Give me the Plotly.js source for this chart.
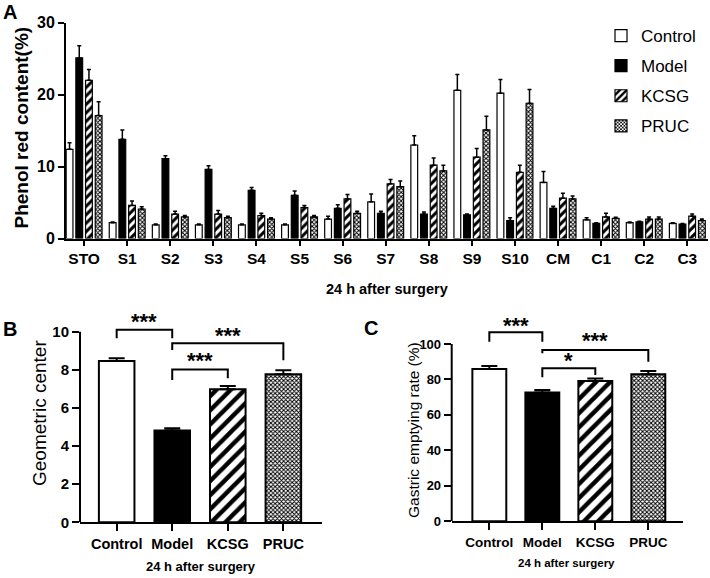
<!DOCTYPE html>
<html>
<head>
<meta charset="utf-8">
<script src="https://cdn.plot.ly/plotly-3.0.1.min.js"></script>
<style>
  html, body { margin: 0; padding: 0; background: #ffffff; }
  #chart { width: 710px; height: 578px; }
</style>
</head>
<body>
<div id="chart"></div>
<script>
// ---------- Panel A data ----------
const categoriesA = ['STO','S1','S2','S3','S4','S5','S6','S7','S8','S9','S10','CM','C1','C2','C3'];
const controlA    = [12.4, 2.2, 1.9, 1.9, 1.9, 1.9, 2.7, 5.1, 13.0, 20.6, 20.2, 7.8, 2.6, 2.2, 2.1];
const controlErrA = [0.9, 0.1, 0.1, 0.1, 0.1, 0.1, 0.4, 1.1, 1.3, 2.2, 1.9, 1.5, 0.3, 0.1, 0.1];
const modelA      = [25.1, 13.8, 11.1, 9.6, 6.7, 6.0, 4.2, 3.5, 3.4, 3.3, 2.5, 4.2, 2.1, 2.3, 2.0];
const modelErrA   = [1.7, 1.3, 0.4, 0.5, 0.4, 0.6, 0.5, 0.3, 0.3, 0.1, 0.4, 0.3, 0.1, 0.1, 0.1];
const kcsgA       = [22.0, 4.6, 3.4, 3.4, 3.2, 4.3, 5.5, 7.6, 10.2, 11.3, 9.2, 5.6, 3.0, 2.7, 3.1];
const kcsgErrA    = [1.5, 0.6, 0.4, 0.5, 0.3, 0.3, 0.6, 0.6, 1.0, 1.2, 1.0, 0.7, 0.5, 0.3, 0.3];
const prucA       = [17.1, 4.1, 3.0, 2.9, 2.7, 3.0, 3.5, 7.2, 9.4, 15.1, 18.8, 5.5, 2.8, 2.7, 2.5];
const prucErrA    = [1.9, 0.3, 0.2, 0.2, 0.2, 0.2, 0.3, 0.8, 0.8, 1.9, 1.9, 0.4, 0.15, 0.3, 0.2];
const yTicksA     = [0, 10, 20, 30];

// ---------- Panel B / C data ----------
const groups      = ['Control', 'Model', 'KCSG', 'PRUC'];
const geoCenter   = [8.46, 4.81, 6.98, 7.76];
const geoErr      = [0.14, 0.12, 0.17, 0.21];
const gastricRate = [85.9, 72.7, 79.1, 82.9];
const gastricErr  = [1.7, 1.4, 1.4, 1.9];
const yTicksB     = [0, 2, 4, 6, 8, 10];
const yTicksC     = [0, 20, 40, 60, 80, 100];

// significance brackets: [from, to]
const sigPairs    = [['Control','Model'], ['Model','PRUC'], ['Model','KCSG']];
const sigLevelsB  = [10.1, 9.39, 8.02];
const sigDropsB   = [[9.65, 9.65], [9.04, 8.5], [7.46, 7.55]];
const sigTextB    = ['***', '***', '***'];
const sigTextYB   = [10.75, 10.0, 8.69];
const sigLevelsC  = [106.6, 96.6, 86.3];
const sigDropsC   = [[101.3, 101.3], [94.7, 90.0], [81.2, 82.5]];
const sigTextC    = ['***', '***', '*'];
const sigTextYC   = [112.6, 104.1, 92.9];

const FONT = 'Liberation Sans, Arial, sans-serif';
const zeros = n => new Array(n).fill(0);

// fill styles per group (Control / Model / KCSG / PRUC)
function groupMarker(i, small) {
  const line = { color: 'black', width: small ? 1.2 : 2 };
  if (i === 0) return { color: 'white', line: line };
  if (i === 1) return { color: 'black', line: line };
  if (i === 2) return { color: 'white', line: line,
    pattern: { shape: '/', fgcolor: 'black', bgcolor: 'white', size: small ? 6 : 10, solidity: small ? 0.5 : 0.45 } };
  return { color: 'white', line: line,
    pattern: { shape: 'x', fgcolor: 'black', bgcolor: 'white', size: 3, solidity: 0.55 } };
}

function bracketTrace(levels, drops, xa, ya) {
  const xs = [], ys = [];
  sigPairs.forEach((p, i) => {
    xs.push(p[0], p[0], p[1], p[1], null);
    ys.push(drops[i][0], levels[i], levels[i], drops[i][1], null);
  });
  return { type: 'scatter', mode: 'lines', x: xs, y: ys, xaxis: xa, yaxis: ya,
           line: { color: 'black', width: 2 }, showlegend: false, hoverinfo: 'skip', connectgaps: false };
}

function errA(arr) {
  return { type: 'data', array: arr, arrayminus: zeros(arr.length), symmetric: false,
           color: 'black', thickness: 1.5, width: 2 };
}

const seriesA = [controlA, modelA, kcsgA, prucA];
const seriesErrA = [controlErrA, modelErrA, kcsgErrA, prucErrA];
const traces = [];
groups.forEach((g, i) => {
  traces.push({ type: 'bar', name: g, x: categoriesA, y: seriesA[i], error_y: errA(seriesErrA[i]),
    marker: groupMarker(i, true), legendgroup: 'g' + i });
});

function singleBars(vals, errs, xa, ya) {
  groups.forEach((g, i) => {
    traces.push({ type: 'bar', x: [g], y: [vals[i]], xaxis: xa, yaxis: ya, width: 0.64,
      offsetgroup: 'one' + xa, showlegend: false,
      error_y: { type: 'data', array: [errs[i]], arrayminus: [0], symmetric: false, color: 'black', thickness: 2, width: 8 },
      marker: groupMarker(i, false) });
  });
}
singleBars(geoCenter, geoErr, 'x2', 'y2');
singleBars(gastricRate, gastricErr, 'x3', 'y3');
traces.push(bracketTrace(sigLevelsB, sigDropsB, 'x2', 'y2'));
traces.push(bracketTrace(sigLevelsC, sigDropsC, 'x3', 'y3'));

const W = 710, H = 578;
const domA = { x: [66 / W, 708 / W], y: [1 - 238.5 / H, 1 - 22.7 / H] };
const domB = { x: [80 / W, 321.7 / W], y: [1 - 522.3 / H, 1 - 300 / H] };
const domC = { x: [451.7 / W, 683.3 / W], y: [1 - 521.3 / H, 1 - 300 / H] };

const axisCommon = {
  showline: true, linecolor: 'black', linewidth: 2, ticks: 'outside', tickcolor: 'black',
  tickwidth: 2, showgrid: false, zeroline: false, fixedrange: true
};

function paperText(text, px, py, size, angle) {
  return { text: text, x: px / W, y: 1 - py / H, xref: 'paper', yref: 'paper', xanchor: 'center', yanchor: 'middle',
           textangle: angle || 0, showarrow: false, font: { family: FONT, size: size, color: 'black' } };
}

const annotations = [
  paperText('<b>A</b>', 10, 12, 20),
  paperText('<b>B</b>', 10, 329, 20),
  paperText('<b>C</b>', 371, 328, 20),
  paperText('<b>Phenol red content(%)</b>', 20.5, 128, 19, -90),
  paperText('<b>24 h after surgery</b>', 387, 289, 14.5),
  paperText('Geometric center', 39, 413, 19, -90),
  paperText('<b>24 h after surgery</b>', 201, 566, 13),
  paperText('Gastric emptying rate (%)', 413, 430, 15.5, -90),
  paperText('<b>24 h after surgery</b>', 566, 563, 11.5)
];

function addStars(textArr, yArr, xa, ya) {
  sigPairs.forEach((p, i) => {
    const ia = groups.indexOf(p[0]), ib = groups.indexOf(p[1]);
    annotations.push({ text: '<b>' + textArr[i] + '</b>', x: (ia + ib) / 2, y: yArr[i], xref: xa, yref: ya,
      xanchor: 'center', yanchor: 'middle', yshift: -4, showarrow: false, font: { family: FONT, size: 22, color: 'black' } });
  });
}
addStars(sigTextB, sigTextYB, 'x2', 'y2');
addStars(sigTextC, sigTextYC, 'x3', 'y3');

const layout = {
  width: W, height: H,
  margin: { l: 0, r: 0, t: 0, b: 0 },
  paper_bgcolor: 'white', plot_bgcolor: 'white',
  barmode: 'group', bargap: 0.1, bargroupgap: 0.3,
  hovermode: false,
  font: { family: FONT, color: 'black' },
  showlegend: true,
  legend: { x: 601 / W, y: 1 - 18 / H, xanchor: 'left', yanchor: 'top', bgcolor: 'rgba(0,0,0,0)',
            font: { family: FONT, size: 17, color: 'black' }, traceorder: 'grouped', tracegroupgap: 5 },
  xaxis: Object.assign({}, axisCommon, { domain: domA.x, anchor: 'y', type: 'category', range: [-0.42, 14.48],
          ticklen: 5, tickfont: { family: FONT, size: 15.5, weight: 'bold', color: 'black' } }),
  yaxis: Object.assign({}, axisCommon, { domain: domA.y, anchor: 'x', range: [0, 30], tickvals: yTicksA,
          ticklen: 6, tickfont: { family: FONT, size: 16, weight: 'bold', color: 'black' } }),
  xaxis2: Object.assign({}, axisCommon, { domain: domB.x, anchor: 'y2', type: 'category', range: [-0.66, 3.69],
          ticklen: 7, tickfont: { family: FONT, size: 14.5, weight: 'bold', color: 'black' } }),
  yaxis2: Object.assign({}, axisCommon, { domain: domB.y, anchor: 'x2', range: [0, 11.66], tickvals: yTicksB,
          showline: false, ticklen: 7, tickfont: { family: FONT, size: 15, weight: 'bold', color: 'black' } }),
  xaxis3: Object.assign({}, axisCommon, { domain: domC.x, anchor: 'y3', type: 'category', range: [-0.71, 3.66],
          ticklen: 7, tickfont: { family: FONT, size: 13.5, weight: 'bold', color: 'black' } }),
  yaxis3: Object.assign({}, axisCommon, { domain: domC.y, anchor: 'x3', range: [0, 124.8], tickvals: yTicksC,
          showline: false, ticklen: 7, tickfont: { family: FONT, size: 13, weight: 'bold', color: 'black' } }),
  shapes: [
    { type: 'line', xref: 'paper', yref: 'y2', x0: domB.x[0], x1: domB.x[0], y0: 0, y1: yTicksB[yTicksB.length - 1], line: { color: 'black', width: 2 } },
    { type: 'line', xref: 'paper', yref: 'y3', x0: domC.x[0], x1: domC.x[0], y0: 0, y1: yTicksC[yTicksC.length - 1], line: { color: 'black', width: 2 } }
  ],
  annotations: annotations
};

Plotly.newPlot('chart', traces, layout, { displayModeBar: false, staticPlot: true });
</script>
</body>
</html>
